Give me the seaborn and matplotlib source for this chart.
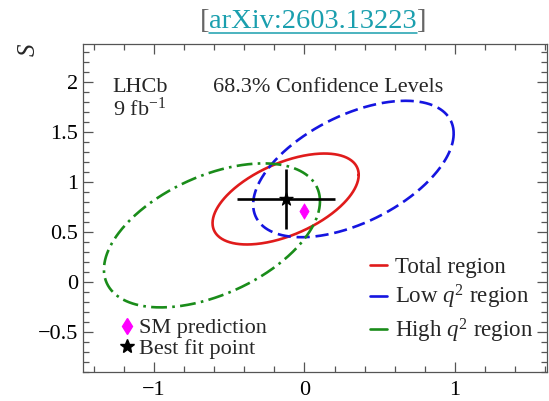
import numpy as np
import pandas as pd
import matplotlib
matplotlib.use("Agg")
import matplotlib.pyplot as plt
from matplotlib.lines import Line2D
from matplotlib.ticker import MultipleLocator, FuncFormatter
import seaborn as sns

# 68.3% CL regions: centre, 1D uncertainties and correlation of each fit
regions = ["Total region", "Low $q^2$ region", "High $q^2$ region"]
centre_x = [-0.125, 0.325, -0.614]
centre_y = [0.83, 1.13, 0.466]
sigma_x = [0.32, 0.439, 0.473]
sigma_y = [0.30, 0.45, 0.475]
rho = [0.53, 0.52, 0.475]

# best fit point with its 1D uncertainties, and the Standard Model prediction
best_x, best_y = -0.125, 0.83
best_ex, best_ey = 0.326, 0.30
sm_x, sm_y = 0.0, 0.71

sns.set_theme(style="ticks")
plt.rcParams["font.family"] = ["Liberation Serif", "DejaVu Serif"]
plt.rcParams["mathtext.fontset"] = "custom"
plt.rcParams["mathtext.rm"] = "Liberation Serif"
plt.rcParams["mathtext.it"] = "Liberation Serif:italic"

FS = 16
colors = ["#e01b1b", "#1515e0", "#1a8c1a"]
styles = ["-", (0, (5, 2.2)), (0, (6, 2, 1, 2))]

fig = plt.figure(figsize=(5.49, 4.01), dpi=100)
ax = fig.add_axes([83 / 549, 1 - 372 / 401, 464 / 549, 328 / 401])

# 2D 68.3% contour: delta chi2 = 2.30
k = np.sqrt(-2 * np.log(1 - 0.683))
t = np.linspace(0, 2 * np.pi, 400)
line_handles = []
for name, cx, cy, sx, sy, r, c, ls in zip(regions, centre_x, centre_y,
                                            sigma_x, sigma_y, rho, colors, styles):
    d = np.arccos(r)
    df = pd.DataFrame({"x": cx + k * sx * np.cos(t),
                       "y": cy + k * sy * np.cos(t - d)})
    sns.lineplot(data=df, x="x", y="y", sort=False, estimator=None, ax=ax,
                 color=c, linewidth=1.9, linestyle=ls)
    line_handles.append(Line2D([], [], color=c, linewidth=1.9, label=name))

# best fit point with error bars
ax.errorbar(best_x, best_y, xerr=best_ex, yerr=best_ey, fmt="none",
            ecolor="black", elinewidth=1.9, capsize=0)
pts = pd.DataFrame({"x": [best_x], "y": [best_y]})
sns.scatterplot(data=pts, x="x", y="y", marker="*", s=100, color="black",
                edgecolor="black", ax=ax, zorder=5)
sm = pd.DataFrame({"x": [sm_x], "y": [sm_y]})
sns.scatterplot(data=sm, x="x", y="y", marker="d", s=60, color="#ff00ff",
                edgecolor="#ff00ff", ax=ax, zorder=5)

ax.set_xlim(-1.47, 1.61)
ax.set_ylim(-0.90, 2.38)
ax.set_xlabel("")
ax.set_ylabel("")
fmt = FuncFormatter(lambda v, p: f"{v:g}".replace("-", "\u2212"))
ax.xaxis.set_major_locator(MultipleLocator(1))
ax.xaxis.set_minor_locator(MultipleLocator(0.2))
ax.yaxis.set_major_locator(MultipleLocator(0.5))
ax.yaxis.set_minor_locator(MultipleLocator(0.1))
ax.xaxis.set_major_formatter(fmt)
ax.yaxis.set_major_formatter(fmt)
ax.tick_params(which="both", direction="in", top=True, right=True,
               color="#555555", labelsize=FS, labelcolor="black")
ax.tick_params(axis="x", which="major", pad=6.5)
ax.tick_params(axis="y", which="major", pad=3.5)
ax.tick_params(which="major", length=7, width=0.9)
ax.tick_params(which="minor", length=4, width=0.9)
for s in ax.spines.values():
    s.set_color("#555555")
    s.set_linewidth(0.9)

# annotations
ax.text(0.064, 0.853, "LHCb", transform=ax.transAxes, fontsize=FS, va="baseline")
ax.text(0.280, 0.853, "68.3% Confidence Levels", transform=ax.transAxes,
        fontsize=FS, va="baseline")
ax.text(0.064, 0.780, "9 fb$^{-1}$", transform=ax.transAxes, fontsize=FS,
        va="baseline")
fig.text(29 / 549, 1 - 50 / 401, "S", rotation=90, style="italic", fontsize=18,
         ha="center", va="center")

# legends
leg1 = ax.legend(handles=line_handles, loc="upper left",
                 bbox_to_anchor=(0.618, 0.35), frameon=False, fontsize=16.5,
                 handlelength=0.75, handletextpad=0.35, labelspacing=0.22,
                 borderpad=0, borderaxespad=0)
ax.add_artist(leg1)
mk = [Line2D([], [], marker="d", color="#ff00ff", linestyle="none",
             markersize=8, label="SM prediction"),
      Line2D([], [], marker="*", color="black", linestyle="none",
             markersize=10, label="Best fit point")]
ax.legend(handles=mk, loc="upper left", bbox_to_anchor=(0.085, 0.165),
          frameon=False, fontsize=FS, handlelength=0.45, handletextpad=0.3,
          labelspacing=0.0, borderpad=0, borderaxespad=0)

# header reference with link styling
teal = "#1a9fae"
fig.canvas.draw()
rend = fig.canvas.get_renderer()
mid = fig.text(313 / 549, 1 - 28 / 401, "arXiv:2603.13223", color=teal,
               fontsize=20.5, ha="center", va="baseline")
bb = mid.get_window_extent(rend)
W, H = fig.bbox.width, fig.bbox.height
fig.text(bb.x0 / W, 1 - 28 / 401, "[", color="#666666", fontsize=20.5,
         ha="right", va="baseline")
fig.text(bb.x1 / W, 1 - 28 / 401, "]", color="#666666", fontsize=20.5,
         ha="left", va="baseline")
fig.add_artist(Line2D([bb.x0 / W, bb.x1 / W], [1 - 33 / 401, 1 - 33 / 401],
                      color=teal, linewidth=1.1, transform=fig.transFigure))

fig.savefig("out.png", dpi=100)
